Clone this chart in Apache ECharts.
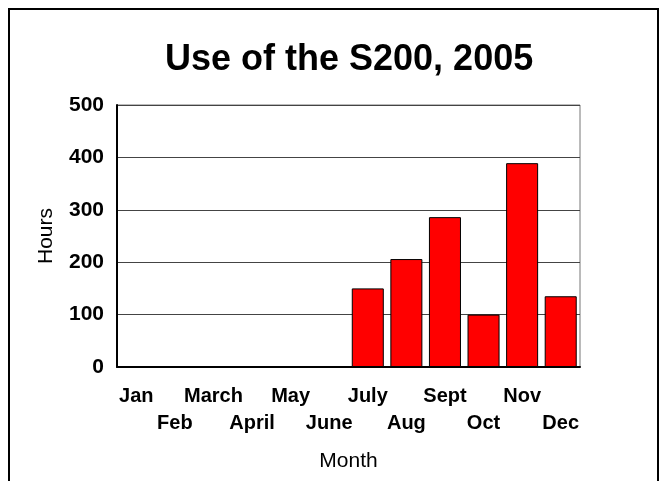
<!DOCTYPE html>
<html>
<head>
<meta charset="utf-8">
<script src="https://cdn.jsdelivr.net/npm/echarts@6/dist/echarts.min.js"></script>
<style>
  html, body { margin: 0; padding: 0; background: #fff; }
  #chart { width: 667px; height: 481px; }
</style>
</head>
<body>
<div id="chart"></div>
<script>
const months = ['Jan', 'Feb', 'March', 'April', 'May', 'June', 'July', 'Aug', 'Sept', 'Oct', 'Nov', 'Dec'];
const hours = [0, 0, 0, 0, 0, 0, 150, 206, 286, 100, 389, 135];
const yTicks = [0, 100, 200, 300, 400, 500];

const font = '"Liberation Sans", Arial, sans-serif';
const chart = echarts.init(document.getElementById('chart'));

chart.setOption({
  animation: false,
  title: {
    text: 'Use of the S200, 2005',
    left: 160,
    top: 37,
    textStyle: { fontFamily: font, fontSize: 36, fontWeight: 'bold', color: '#000' }
  },
  graphic: [{
    type: 'rect',
    shape: { x: 9, y: 9, width: 649, height: 500 },
    style: { fill: 'none', stroke: '#000', lineWidth: 2 },
    silent: true
  }],
  grid: {
    left: 117, right: 87, top: 105, bottom: 114,
    show: true, borderColor: '#777', borderWidth: 1
  },
  xAxis: {
    type: 'category',
    data: months,
    name: 'Month',
    nameLocation: 'middle',
    nameGap: 84,
    nameTextStyle: { fontFamily: font, fontSize: 21, color: '#000' },
    axisLine: { lineStyle: { color: '#000', width: 2 } },
    axisTick: { show: false },
    axisLabel: {
      interval: 0,
      margin: 16,
      fontFamily: font,
      fontSize: 20,
      fontWeight: 'bold',
      color: '#000',
      lineHeight: 27,
      formatter: (v, i) => (i % 2 ? '\n' + v : v + '\n')
    }
  },
  yAxis: {
    type: 'value',
    min: yTicks[0],
    max: yTicks[yTicks.length - 1],
    interval: 100,
    name: 'Hours',
    nameLocation: 'middle',
    nameGap: 60,
    nameTextStyle: { fontFamily: font, fontSize: 21, color: '#000' },
    axisLine: { show: true, lineStyle: { color: '#000', width: 2 } },
    axisTick: { show: false },
    axisLabel: {
      margin: 13,
      fontFamily: font,
      fontSize: 21,
      fontWeight: 'bold',
      color: '#000'
    },
    splitLine: { lineStyle: { color: '#444', width: 1 } }
  },
  series: [{
    type: 'bar',
    data: hours,
    barCategoryGap: '17%',
    itemStyle: { color: '#ff0000', borderColor: '#000', borderWidth: 1 }
  }]
});
</script>
</body>
</html>
